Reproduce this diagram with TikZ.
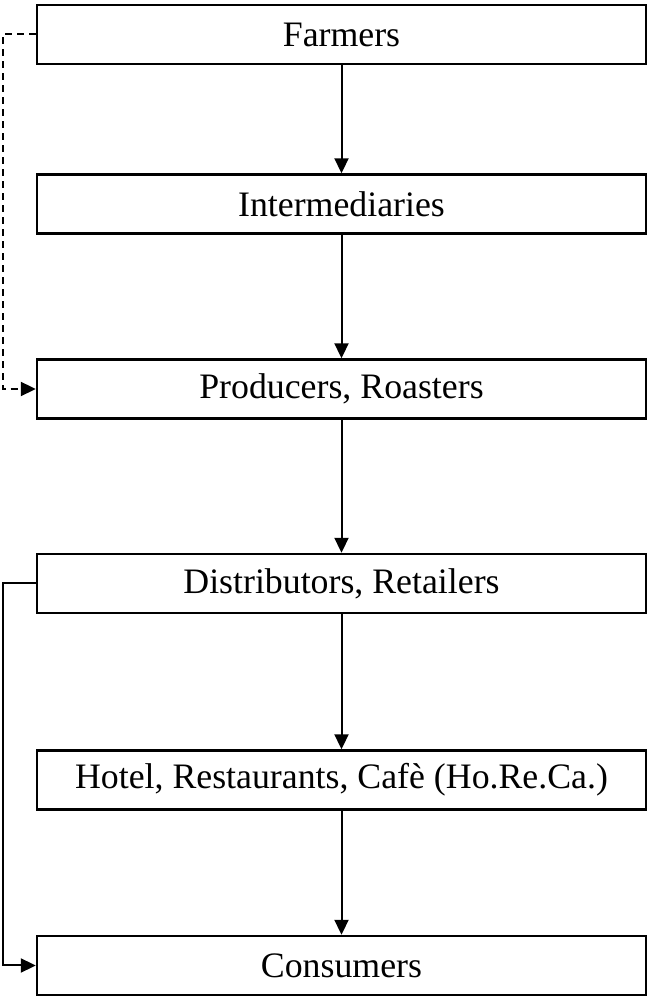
\documentclass[tikz,border=0pt]{standalone}
\usepackage{fontspec}
\setmainfont{Liberation Serif}
\usetikzlibrary{arrows.meta}
\begin{document}
\begin{tikzpicture}[x=1pt,y=1pt,
  stagebox/.style={draw=black, line width=2.4pt, minimum width=609pt, minimum height=59pt, inner sep=0pt, font=\fontsize{35.8}{40}\selectfont},
  flow/.style={line width=2pt, -{Triangle[length=15pt,width=14pt]}},
  dflow/.style={flow, dash pattern=on 7pt off 5pt}]
\useasboundingbox (0,0) rectangle (650,996);
\node[stagebox] (farm) at (341.5,961.5) {Farmers};
\node[stagebox] (inter) at (341.5,792) {Intermediaries};
\node[stagebox] (prod) at (341.5,607) {Producers, Roasters};
\node[stagebox] (dist) at (341.5,412.5) {Distributors, Retailers};
\node[stagebox] (hotel) at (341.5,216) {Hotel, Restaurants, Cafè (Ho.Re.Ca.)};
\node[stagebox] (cons) at (341.5,30.5) {Consumers};
\draw[flow] (farm.south) -- (inter.north);
\draw[flow] (inter.south) -- (prod.north);
\draw[flow] (prod.south) -- (dist.north);
\draw[flow] (dist.south) -- (hotel.north);
\draw[flow] (hotel.south) -- (cons.north);
\coordinate (dl1) at (2.5,961.5);
\coordinate (dl2) at (2.5,607);
\draw[dflow] (farm.west) -- (dl1) -- (dl2) -- (prod.west);
\coordinate (sl1) at (3,412.5);
\coordinate (sl2) at (3,30.5);
\draw[flow] (dist.west) -- (sl1) -- (sl2) -- (cons.west);
\end{tikzpicture}
\end{document}
